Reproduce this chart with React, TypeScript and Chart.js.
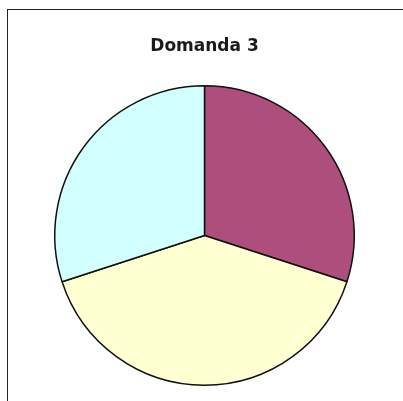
import React, { useEffect, useRef } from "react";
import { Chart, registerables } from "chart.js";

Chart.register(...registerables);

const categories = ["A", "B", "C"];
const values = [30, 40, 30];
const colors = ["#ad4e7d", "#ffffd2", "#d2ffff"];
const titleText = "Domanda 3";

export default function App() {
  const ref = useRef<HTMLCanvasElement | null>(null);
  useEffect(() => {
    if (!ref.current) return;
    const chart = new Chart(ref.current, {
      type: "pie",
      data: {
        labels: categories,
        datasets: [
          {
            data: values,
            backgroundColor: colors,
            borderColor: "#111111",
            borderWidth: 1.5,
          },
        ],
      },
      options: {
        animation: false,
        responsive: false,
        devicePixelRatio: 1,
        layout: { padding: { left: 54, right: 48, top: 0, bottom: 15 } },
        plugins: {
          legend: { display: false },
          tooltip: { enabled: false },
          title: {
            display: true,
            text: titleText,
            color: "#1a1a1a",
            font: { family: "DejaVu Sans", size: 17, weight: "bold", lineHeight: 1.2 },
            padding: { top: 36, bottom: 28.6 },
          },
        },
      },
    });
    return () => chart.destroy();
  }, []);
  return (
    <div style={{ position: "absolute", left: 0, top: 0, width: 403, height: 401, background: "#fff" }}>
      <div
        style={{
          position: "absolute",
          left: 7,
          top: 9,
          right: 0,
          bottom: 0,
          borderLeft: "1px solid #222",
          borderTop: "1px solid #222",
        }}
      />
      <canvas ref={ref} width={403} height={401} style={{ position: "absolute", left: 0, top: 0 }} />
    </div>
  );
}
